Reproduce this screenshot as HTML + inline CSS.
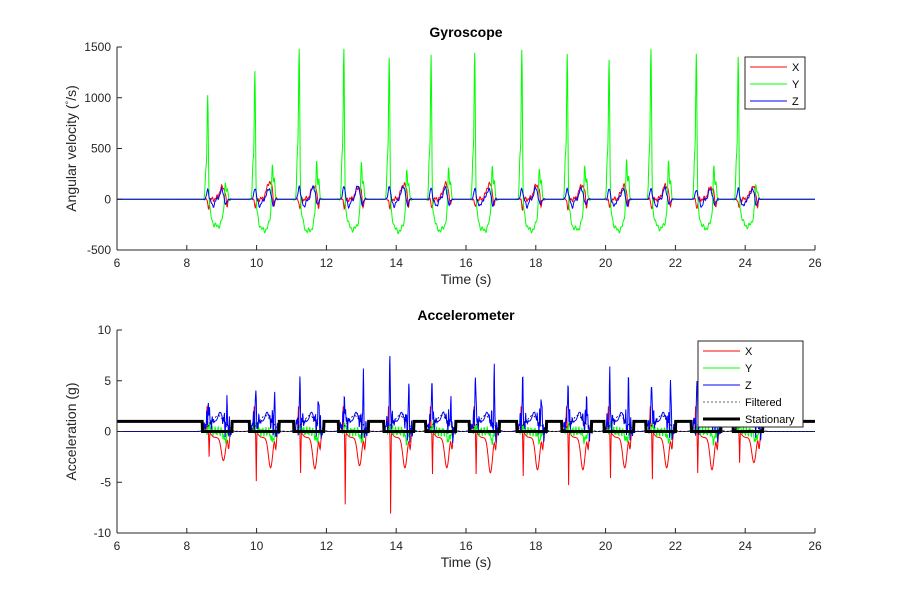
<!DOCTYPE html>
<html><head><meta charset="utf-8"><style>
body{margin:0;background:#fff}
svg{font-family:"Liberation Sans",sans-serif}
</style></head><body>
<svg id="c" width="900" height="600" viewBox="0 0 900 600">
<rect width="900" height="600" fill="#fff"/>
</svg>
<script>
// stride event data
const strideTimes=[8.6,9.95,11.22,12.5,13.8,15.0,16.25,17.6,18.9,20.1,21.3,22.6,23.8];
const gyroYPeak=[1050,1280,1520,1480,1400,1420,1470,1480,1450,1400,1490,1450,1390];
const gyroYSecond=[230,420,440,420,350,380,400,380,420,450,420,380,200];
const gyroYTrough=[-270,-310,-320,-300,-320,-310,-310,-310,-300,-310,-290,-290,-270];
const gyroXPeak=[120,170,130,120,150,150,150,140,140,130,140,120,120];
const gyroZPeak=[90,110,130,140,130,110,100,110,110,100,110,100,100];
const accZPeak=[3.3,4.2,4.8,4.1,7.0,5.8,6.4,5.2,5.5,5.2,5.6,5.0,4.0];
const accZSecond=[3.2,4.1,4.7,5.5,4.7,3.9,5.9,5.0,4.8,5.4,5.7,4.5,3.8];
const accXMin=[-2.4,-4.8,-4.0,-7.1,-8.0,-4.1,-4.1,-4.3,-5.2,-4.5,-4.6,-4.0,-3.0];
const accXHump=[-2.3,-3.0,-3.1,-2.8,-3.0,-3.0,-3.5,-3.2,-3.2,-3.0,-3.0,-3.2,-2.5];
const xTicks=[6,8,10,12,14,16,18,20,22,24,26];
const gyroYTicks=[-500,0,500,1000,1500];
const accYTicks=[-10,-5,0,5,10];

const S=document.getElementById('c'),NS='http://www.w3.org/2000/svg';
function mk(tag,attrs,parent){const e=document.createElementNS(NS,tag);for(const k in attrs)e.setAttribute(k,attrs[k]);(parent||S).appendChild(e);return e;}
const X0=117,X1=815;
function sx(t){return X0+(t-6)/20*(X1-X0);}
function g(t,c,w){return Math.exp(-((t-c)*(t-c))/(2*w*w));}
function plate(t,a,b,k){return 1/(1+Math.exp(-(t-a)*k))-1/(1+Math.exp(-(t-b)*k));}
const T=[];for(let t=6;t<=26.001;t+=0.01)T.push(+t.toFixed(2));
function wig(t,f){return Math.sin(t*f)*Math.sin(t*f*0.37+1);}
function sumS(fn){return T.map(t=>{let v=0;strideTimes.forEach((s,i)=>{if(Math.abs(t-s)<1.2)v+=fn(t,s,i);});return v;});}

const gy=sumS((t,s,i)=>gyroYPeak[i]*g(t,s,0.018)+0.3*gyroYPeak[i]*g(t,s-0.05,0.02)+gyroYTrough[i]*plate(t,s+0.08,s+0.45,25)+gyroYSecond[i]*g(t,s+0.5,0.02)+0.5*gyroYSecond[i]*g(t,s+0.56,0.02)+30*wig(t,60)*plate(t,s-0.1,s+0.6,20));
const gx=sumS((t,s,i)=>-90*g(t,s+0.02,0.02)+gyroXPeak[i]*g(t,s+0.42,0.08)-110*g(t,s+0.55,0.02)+25*wig(t,70)*plate(t,s-0.05,s+0.6,30));
const gz=sumS((t,s,i)=>gyroZPeak[i]*g(t,s,0.03)-70*g(t,s+0.15,0.04)+gyroZPeak[i]*g(t,s+0.4,0.05)-60*g(t,s+0.52,0.03)+20*wig(t,70)*plate(t,s-0.05,s+0.6,30));
const az=sumS((t,s,i)=>(accZPeak[i]-1)*g(t,s+0.02,0.012)+1.5*wig(t,120)*plate(t,s-0.08,s+0.12,40)+(accZSecond[i]-1)*g(t,s+0.56,0.012)+1.8*wig(t,130)*plate(t,s+0.45,s+0.65,40)+1.0*plate(t,s-0.1,s+0.55,30)+0.9*g(t,s+0.35,0.05));
const ax=sumS((t,s,i)=>accXMin[i]*g(t,s+0.04,0.008)+2.5*g(t,s-0.02,0.01)+accXHump[i]*g(t,s+0.45,0.06)-1.5*g(t,s+0.6,0.02)-0.6*plate(t,s+0.1,s+0.55,30));
const ay=sumS((t,s,i)=>0.5*wig(t,110)*plate(t,s-0.05,s+0.65,40)-0.9*g(t,s+0.5,0.04)+0.6*g(t,s+0.05,0.03));
const filt=sumS((t,s,i)=>1.0*plate(t,s,s+0.6,15)+0.6*g(t,s+0.3,0.1));
const stat=T.map(t=>{let v=1;strideTimes.forEach(s=>{if(t>=s-0.15&&t<=s+0.7)v=0;});if(t>24.5)v=1;return v;});
const ZERO=T.map(()=>0);

function axes(tp,bt,ymin,ymax,yt,title,ylab,pref){
  const sy=v=>bt-(v-ymin)/(ymax-ymin)*(bt-tp);
  const a=mk('g',{});
  
  
  mk('rect',{x:X0,y:tp,width:X1-X0,height:bt-tp,fill:'#fff',stroke:'none'},a);
  return {sy:sy,a:a,tp:tp,bt:bt,yt:yt,title:title,ylab:ylab,pref:pref};
}
function frame(o){
  const sy=o.sy,a=o.a,tp=o.tp,bt=o.bt,pref=o.pref;
  mk('line',{x1:X0,y1:bt,x2:X1,y2:bt,stroke:'#262626','stroke-width':1},a);
  mk('line',{x1:X0,y1:tp,x2:X0,y2:bt,stroke:'#262626','stroke-width':1},a);
  xTicks.forEach(v=>{const x=sx(v);mk('line',{x1:x,y1:bt,x2:x,y2:bt-5,stroke:'#262626'},a);
    const t=mk('text',{x:x,y:bt+17,'text-anchor':'middle','font-size':12,fill:'#262626'},a);t.textContent=v;
    
    });
  o.yt.forEach(v=>{const y=sy(v);mk('line',{x1:X0,y1:y,x2:X0+5,y2:y,stroke:'#262626'},a);
    const t=mk('text',{x:X0-6,y:y+4,'text-anchor':'end','font-size':12,fill:'#262626'},a);t.textContent=v;
    
    });
  const tt=mk('text',{x:(X0+X1)/2,y:tp-10,'text-anchor':'middle','font-size':14,'font-weight':'bold',fill:'#000'},a);tt.textContent=o.title;
  
  
  const xl=mk('text',{x:(X0+X1)/2,y:bt+34,'text-anchor':'middle','font-size':14,fill:'#262626'},a);xl.textContent='Time (s)';
  
  
  const cy=(tp+bt)/2;
  const yl=mk('text',{x:76,y:cy,'text-anchor':'middle','font-size':14,fill:'#262626',transform:'rotate(-90 76 '+cy+')'},a);yl.innerHTML=o.ylab;
  
  
}
function line(o,vals,color,w,name,dash){
  const pts=T.map((t,i)=>sx(t).toFixed(1)+','+Math.max(o.tp,Math.min(o.bt,o.sy(vals[i]))).toFixed(1)).join(' ');
  const p=mk('polyline',{points:pts,fill:'none',stroke:color,'stroke-width':w},o.a);
  if(dash)p.setAttribute('stroke-dasharray',dash);
  
  
}
function legend(o,x,y,w,items){
  const g2=mk('g',{},o.a);
  
  
  mk('rect',{x:x,y:y,width:w,height:items.length*17+1,fill:'#fff',stroke:'#262626','stroke-width':1},g2);
  items.forEach((it,i)=>{const yy=y+10+i*17;
    const l=mk('line',{x1:x+5,y1:yy,x2:x+42,y2:yy,stroke:it[1],'stroke-width':it[2]},g2);if(it[3])l.setAttribute('stroke-dasharray',it[3]);
    const t=mk('text',{x:x+47,y:yy+4,'font-size':11,fill:'#000'},g2);t.textContent=it[0];
    
    });
}
const gyroAx=axes(47,250,-500,1500,gyroYTicks,'Gyroscope','Angular velocity (<tspan dy="-4" font-size="9">°</tspan><tspan dy="4">/s)</tspan>','gyro');
line(gyroAx,gx,'#ff0000',1,'gyro-x-line');line(gyroAx,gy,'#00ff00',1,'gyro-y-line');line(gyroAx,gz,'#0000ff',1,'gyro-z-line');
frame(gyroAx);
legend(gyroAx,745,57,60,[['X','#ff0000',1],['Y','#00ff00',1],['Z','#0000ff',1]]);
const accAx=axes(330,533,-10,10,accYTicks,'Accelerometer','Acceleration (g)','accel');
line(accAx,ax,'#ff0000',1,'accel-x-line');line(accAx,ay,'#00ff00',1,'accel-y-line');line(accAx,az,'#0000ff',1,'accel-z-line');
line(accAx,ZERO,'#ff0000',1,'filtered-x-line','2,2');line(accAx,ZERO,'#00aa00',1,'filtered-y-line','1,3');line(accAx,filt,'#000',0.8,'filtered-line','2,2');
line(accAx,stat,'#000',3,'stationary-line');
frame(accAx);
legend(accAx,698,341,105,[['X','#ff0000',1],['Y','#00ff00',1],['Z','#0000ff',1],['Filtered','#333',0.8,'2,2'],['Stationary','#000',3]]);
</script>
</body></html>
